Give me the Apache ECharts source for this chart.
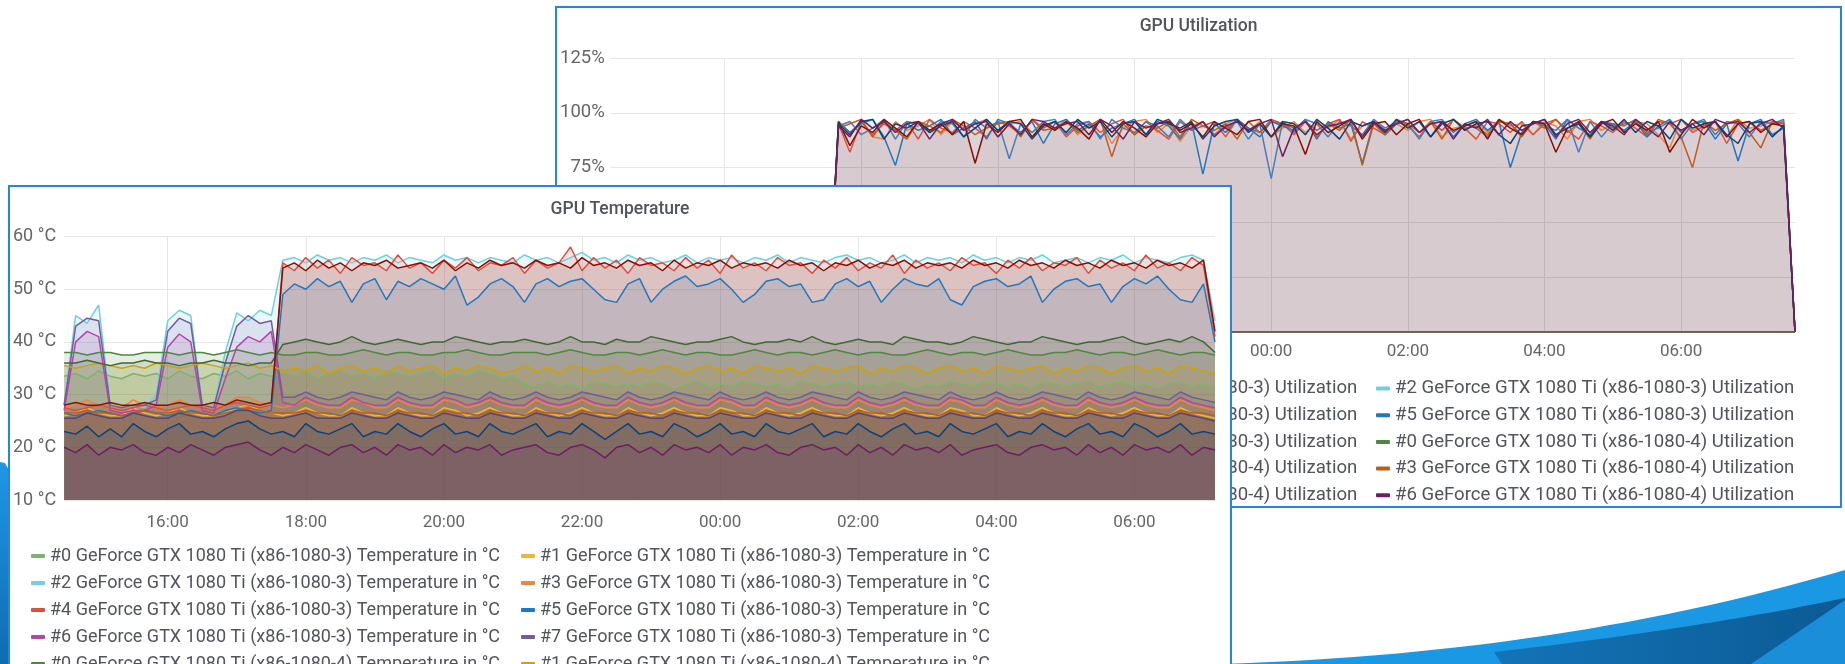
<!DOCTYPE html>
<html>
<head>
<meta charset="utf-8">
<title>GPU Temperature / Utilization</title>
<script src="https://cdn.jsdelivr.net/npm/echarts/dist/echarts.min.js"></script>
<style>
  html, body { margin: 0; padding: 0; background: #fff; width: 1845px; height: 664px; overflow: hidden; }
  #bg { position: absolute; left: 0; top: 0; width: 1845px; height: 664px; }
  .panel { position: absolute; background: #fff; border: 2px solid #2389d7; }
  #util { left: 555px; top: 6px; width: 1283px; height: 498px; z-index: 1; }
  #temp { left: 8px; top: 185px; width: 1220px; height: 520px; z-index: 2; }
</style>
</head>
<body>
<div id="bg"></div>
<div id="util" class="panel"></div>
<div id="temp" class="panel"></div>
<script>
// 10 minute slots
const timeSlots = (h, m, n) => {
  const out = []
  for (let i = 0; i < n; i++) {
    const t = (h * 60 + m + i * 10) % 1440
    out.push(String(Math.floor(t / 60)).padStart(2, '0') + ':' + String(t % 60).padStart(2, '0'))
  }
  return out
}
const tempTimes = timeSlots(14, 30, 101)   // 14:30 .. 07:10
const utilTimes = timeSlots(14, 20, 105)   // 14:20 .. 07:40

const gpuIds = ['#0', '#1', '#2', '#3', '#4', '#5', '#6', '#7']
const hosts = ['x86-1080-3', 'x86-1080-4']

const palette = ['#7EB26D', '#EAB839', '#6ED0E0', '#EF843C', '#E24D42', '#1F78C1', '#BA43A9', '#705DA0',
                 '#508642', '#CCA300', '#447EBC', '#C15C17', '#890F02', '#0A437C', '#6D1F62', '#584477']
const tempColors = ['#7EB26D', '#EAB839', '#6ED0E0', '#EF843C', '#E24D42', '#1F78C1', '#BA43A9', '#705DA0',
                    '#508642', '#CCA300', '#3F6833', '#C15C17', '#890F02', '#0A437C', '#6D1F62', '#584477']

const tempTicks = [10, 60, 10]   // min, max, step in °C
const utilTicks = [0, 125, 25]   // min, max, step in %

// ---- temperature, °C (x86-1080-3) ----
const tempA0 = [33.5,34,33,34.5,33.5,33,34,33.5,34,33, 34.5,33.5,33,34,33.5,34.5,33,34,33.5,34,
  33.5,34.5,33,34,34.5,33.5,34,33,34.5,34, 33.5,34,34.5,33,34,33.5,34.5,34,33,33.5,
  32,31.5,32.5,31.5,32,31,32.5,32,31.5,32, 31.5,32.5,32,31,32,32.5,31.5,32,31.5,32.5,
  32,31.5,32,31,32.5,32,31.5,32,32.5,31.5, 32,31.5,32.5,32,31,32,31.5,32.5,32,31.5,
  32.5,32,31.5,32,31,32.5,32,31.5,32,32.5, 31.5,32,32.5,31.5,32,31,32,32.5,31.5,32, 31]
const tempA1 = [26,26.5,27.5,26.5,26,26,27.5,26.5,26,26.5, 27.5,26.5,26,26,26.5,27.5,28,27,26.5,26,
  26.5,27.5,26.5,26,26,27.5,26.5,26,26,27.5, 26.5,26,26,27.5,27,26,26.5,27.5,26.5,26,
  26,27.5,26.5,26,26.5,27.5,26.5,26,26,27.5, 26.5,26,26.5,27.5,26.5,26,26,27.5,27,26,
  26,27.5,26.5,26,26.5,27.5,26.5,26,26,27.5, 26.5,26,26.5,27.5,26.5,26,26,27.5,27,26,
  26,27.5,26.5,26,26.5,27.5,26.5,26,26,27.5, 26.5,26,26.5,27.5,26.5,26,26,27.5,26.5,26, 25.5]
const tempA2 = [28,45,43.5,47,28,27.5,28,27.5,30,44, 46,45,28,27.5,38,45.5,44,46,45,55.5,
  56,55,56.5,55.5,56,55,56,55.5,56.5,55, 56,55.5,55,56.5,55.5,56,55,56,55.5,55,
  56.5,55.5,56,55,56,57,55.5,56,55,56.5, 55.5,56,55,55.5,56.5,55,56,55.5,56,55,
  56,55.5,56.5,55,56,55.5,55,56,56.5,55.5, 56,55,55.5,56.5,55,56,55.5,56,55,56.5,
  55.5,56,55,56,55.5,56.5,55,55.5,56,55, 56,55.5,56.5,55,56,55.5,55,56,56.5,55.5, 44]
const tempA3 = [27.5,28,29,28,27.5,27.5,29,28,27.5,28, 29,28,27.5,27.5,28,29.5,29.5,28.5,28,27.5,
  28,29,28,27.5,27.5,29,28.5,27.5,27.5,29, 28,27.5,27.5,29,28.5,27.5,28,29,28,27.5,
  27.5,29,28,27.5,28,29,28,27.5,27.5,29, 28,27.5,28,29,28,27.5,27.5,29,28.5,27.5,
  27.5,29,28,27.5,28,29,28,27.5,27.5,29, 28,27.5,28,29,28,27.5,27.5,29,28.5,27.5,
  27.5,29,28,27.5,28,29,28,27.5,27.5,29, 28,27.5,28,29,28,27.5,27.5,29,28,27.5, 27]
const tempA4 = [27.5,27,27.5,28,27.5,27,27.5,28,27.5,27, 27.5,28,27.5,27,28,28.5,28,27.5,28,55,
  53.5,56,54,55.5,53,56,54.5,55,53.5,56.5, 54,55,53,55.5,54,56,53.5,55,54.5,56,
  53,55.5,54,55,58,53.5,56,54,55.5,53, 56,54.5,55,53.5,56,54,55.5,53,56.5,54,
  55,53.5,56,54.5,55,53,55.5,54,56,53.5, 55,54,56.5,53,55.5,54,55,53.5,56,54.5,
  55,53,55.5,54,56,53.5,55,54.5,56,53, 55.5,54,55,53.5,56.5,54,55,53.5,56,54.5, 41]
const tempA5 = [26.5,26,26.5,27,26.5,26,26.5,27,26.5,26, 26.5,27,26.5,26,27,27.5,27,26.5,27,49,
  51,50,52,50.5,51.5,47.5,51,52,48,51.5, 50.5,52,51,50,52.5,47,48.5,51,52,50.5,
  47.5,51,52,50.5,51.5,52,50,48,47.5,51, 52,47.5,50,51.5,52.5,50.5,51,52,50,47.5,
  49,51.5,52,50.5,51,47.5,48,51,52,50.5, 51.5,47.5,50,52,51,50.5,52,48,47,50.5,
  51.5,52,50.5,51,52.5,47.5,50,51.5,52,50.5, 51,47.5,50.5,52,51,52.5,50,48,47.5,51, 40]
const tempA6 = [27,40,42,41,27,26.5,27,27,28,39, 41.5,40,27,26.5,33,39,41,40,42,28.5,
  28,29.5,28.5,28,28,29.5,28.5,28,28,29.5, 28.5,28,28,29.5,29,28,28.5,29.5,28.5,28,
  28,29.5,28.5,28,28.5,29.5,28.5,28,28,29.5, 28.5,28,28.5,29.5,28.5,28,28,29.5,29,28,
  28,29.5,28.5,28,28.5,29.5,28.5,28,28,29.5, 28.5,28,28.5,29.5,28.5,28,28,29.5,29,28,
  28,29.5,28.5,28,28.5,29.5,28.5,28,28,29.5, 28.5,28,28.5,29.5,28.5,28,28,29.5,28.5,28, 27.5]
const tempA7 = [28,43,44.5,44,28,27.5,28,28,29,42, 44.5,43.5,28,27.5,36,43,45,43.5,44,29.5,
  29.5,30.5,29.5,29,29.5,30.5,30,29.5,29,30.5, 29.5,29,29.5,30.5,30,29.5,29,30.5,29.5,29,
  29.5,30.5,29.5,29,29.5,30.5,30,29.5,29,30.5, 29.5,29,29.5,30.5,30,29.5,29,30.5,29.5,29,
  29.5,30.5,29.5,29,29.5,30.5,30,29.5,29,30.5, 29.5,29,29.5,30.5,30,29.5,29,30.5,29.5,29,
  29.5,30.5,29.5,29,29.5,30.5,30,29.5,29,30.5, 29.5,29,29.5,30.5,30,29.5,29,30.5,29.5,29, 28.5]

// ---- temperature, °C (x86-1080-4) ----
const tempB0 = [38,38,37.5,38,38,37.5,37.5,38,38,38, 37.5,38,38,37.5,38,38.5,38,37.5,38,37.5,
  37.5,38,38,37.5,37.5,38,38.5,38,37.5,38, 38,37.5,37.5,38,38,38.5,38,37.5,37.5,38,
  38,38,37.5,38,38.5,38,37.5,37.5,38,38, 37.5,38,38.5,38,37.5,38,38,37.5,37.5,38,
  38.5,38,37.5,38,38,37.5,38,38.5,38,37.5, 38,38,37.5,37.5,38,38.5,38,37.5,38,38,
  37.5,38,38.5,38,37.5,37.5,38,38,38.5,38, 37.5,38,38,37.5,38,38.5,38,37.5,38,38, 37.5]
const tempB1 = [35.5,35,35.5,36,35.5,35,35.5,35,36,35.5, 35,35.5,36,35.5,35,35.5,36,35,35.5,34.5,
  35,34.5,35.5,34,35,35.5,34.5,35,34,35.5, 34.5,35,35.5,34,35,34.5,35.5,35,34,34.5,
  35.5,34.5,35,34,35.5,35,34.5,35,35.5,34, 35,34.5,35.5,35,34,35,35.5,34.5,35,34,
  35.5,35,34.5,35,34,35.5,35,34.5,35,35.5, 34,35,34.5,35.5,35,34,35,35.5,34.5,35,
  34,35.5,35,34.5,35,35.5,34,35,34.5,35.5, 35,34,35,35.5,34.5,35,34,35.5,35,34.5, 34]
const tempB2 = [36,36,36.5,36,35.5,36,36,36.5,36,36, 35.5,36,36,36.5,36,36,35.5,36,36,39.5,
  40,40.5,40,39.5,40,41,40,39.5,40,40.5, 40,39.5,40,40,41,40.5,40,39.5,40,40,
  40.5,40,39.5,40,41,40,40,39.5,40.5,40, 40,41,40.5,40,39.5,40,40,40.5,41,40,
  39.5,40,40,40.5,40,41,40,39.5,40,40.5, 40,40,39.5,41,40.5,40,40,39.5,40,41,
  40.5,40,39.5,40,40,41,40.5,40,39.5,40, 40,40.5,41,40,39.5,40,40.5,40,41,40, 38]
const tempB3 = [26.5,26.5,27,26.5,26.5,26,26.5,27,26.5,26.5, 27,26.5,26.5,26,26.5,27,27.5,27,26.5,26.5,
  26.5,27,26.5,26.5,26,27,26.5,26.5,26,27, 26.5,26.5,26,27,26.5,26.5,26,27,26.5,26.5,
  26,27,26.5,26.5,26,27,26.5,26.5,26,27, 26.5,26.5,26,27,26.5,26.5,26,27,26.5,26.5,
  26,27,26.5,26.5,26,27,26.5,26.5,26,27, 26.5,26.5,26,27,26.5,26.5,26,27,26.5,26.5,
  26,27,26.5,26.5,26,27,26.5,26.5,26,27, 26.5,26.5,26,27,26.5,26.5,26,27,26.5,26.5, 26]
const tempB4 = [28,28.5,28,28,28.5,28,28,28.5,28,28, 28.5,28,28,28.5,28,29,28.5,28,28.5,54,
  55,53.5,55.5,54,55,53.5,55,54.5,55.5,54, 54.5,55,54,55.5,53.5,55,54,55.5,54.5,55,
  54,55.5,54.5,55,54,56,54.5,55,54,55.5, 54.5,55,53.5,55.5,54,55,54.5,55.5,54,55,
  54.5,55,54,55.5,54.5,55,53.5,55,54.5,55.5, 54,55,54.5,55.5,54,55,54.5,55,54,55.5,
  54.5,55,54,55.5,54.5,55,54,55.5,54.5,55, 54,55.5,54.5,55,54,55.5,54.5,55,54,55.5, 42]
const tempB5 = [23,22.5,24,22,23.5,22,24.5,23,22,23.5, 24.5,22.5,23,22,23.5,24.5,25,23.5,22.5,23,
  22,24.5,23,22.5,23.5,24.5,22,23,22.5,24.5, 23,22,23.5,24.5,22.5,23,22,24.5,23,22.5,
  23.5,24.5,22,23,22.5,24.5,23,21.5,23,24.5, 22.5,23,22,24.5,23.5,22,23,24.5,22.5,23,
  22,24.5,23,22.5,23.5,24.5,22,23,22.5,24.5, 23,22,23.5,24.5,22.5,23,22,24.5,23,22.5,
  23.5,24.5,22,23,22.5,24.5,23,22,23.5,24.5, 22.5,23,22,24.5,23.5,22,23,24.5,22.5,23, 22.5]
const tempB6 = [20,19,20.5,18.5,20,19.5,20.5,19,18.5,20, 19,20.5,19.5,18.5,20,20.5,21,19.5,18.5,20,
  19,20.5,19.5,18.5,20,20.5,19,20,18.5,20.5, 19.5,20,18.5,20.5,19,20,19.5,20.5,18.5,19.5,
  20,20.5,19,18.5,20,20.5,19.5,18,20,20.5, 19,20,18.5,20.5,19.5,20,19,20.5,18.5,20,
  19.5,20.5,19,18.5,20,20.5,19.5,20,18.5,20.5, 19,20,18.5,20.5,19.5,20,19,20.5,18.5,19.5,
  20,20.5,19,18.5,20,20.5,19.5,20,18.5,20.5, 19,20,18.5,20.5,19.5,20,19,20.5,18.5,20, 19.5]
const tempB7 = [25.5,25.5,26.5,26,25.5,25.5,26.5,26,25.5,25.5, 26.5,26,25.5,25.5,26,27,27,26,25.5,25.5,
  26,26.5,25.5,25.5,25.5,26.5,26,25.5,25.5,26.5, 26,25.5,25.5,26.5,26,25.5,25.5,26.5,26,25.5,
  25.5,26.5,26,25.5,25.5,26.5,26,25.5,25.5,26.5, 26,25.5,25.5,26.5,26,25.5,25.5,26.5,26,25.5,
  25.5,26.5,26,25.5,25.5,26.5,26,25.5,25.5,26.5, 26,25.5,25.5,26.5,26,25.5,25.5,26.5,26,25.5,
  25.5,26.5,26,25.5,25.5,26.5,26,25.5,25.5,26.5, 26,25.5,25.5,26.5,26,25.5,25.5,26.5,26,25.5, 25]

// ---- utilization, % ----
// idle before the job starts (14:20 .. 17:30)
const utilBefore = [0,0,0,0,0,0,0,0,0,0, 0,0,0,0,0,0,0,0,0,0]
// GPUs that stay idle the whole time
const utilIdle = [0,0,0,0,0,0,0,0,0,0, 0,0,0,0,0,0,0,0,0,0, 0,0,0,0,0,0,0,0,0,0, 0,0,0,0,0,0,0,0,0,0,
  0,0,0,0,0,0,0,0,0,0, 0,0,0,0,0,0,0,0,0,0, 0,0,0,0,0,0,0,0,0,0, 0,0,0,0,0,0,0,0,0,0,
  0,0,0,0,0,0,0,0,0,0, 0,0,0,0,0,0,0,0,0,0, 0,0,0,0,0]
// loaded GPUs, 17:40 .. 07:40
const utilA3 = [95,91,96,89,88,96,92,94,97,90, 96,93,95,97,89,95,96,91,95,93, 97,90,94,96,86,93,96,97,91,95,
  87,94,96,90,95,97,92,96,89,93, 96,91,95,93,97,88,94,96,90,95, 92,96,97,89,93,94,96,91,97,94,
  95,90,96,94,88,96,97,92,95,91, 96,95,90,84,97,92,95,96,89,97, 93,94,96,95, 0]
const utilA4 = [95,82,96,90,95,92,96,88,97,93, 91,96,93,89,96,94,90,97,93,96, 89,94,96,91,95,97,90,96,92,88,
  96,92,94,96,89,97,93,91,96,95, 90,96,92,95,97,87,96,93,90,96, 94,89,96,92,97,93,88,96,95,91,
  96,90,95,97,92,88,96,94,91,96, 93,89,96,95,97,91,94,96,86,95, 96,92,95,96, 0]
const utilA5 = [96,91,95,97,89,76,95,92,94,97, 90,93,96,88,97,95,91,96,86,95, 97,92,95,89,93,95,97,90,96,94,
  88,96,72,95,91,97,93,89,96,94, 92,97,88,96,93,95,77,96,90,95, 97,91,95,96,89,95,97,92,96,75,
  91,96,95,88,97,93,90,96,95,92, 96,89,94,97,91,95,96,88,95,78, 95,97,90,93, 0]
const utilB2 = [94,96,90,93,97,88,96,95,91,96, 95,89,97,93,96,79,95,91,96,97, 90,95,96,88,97,93,91,96,94,89,
  97,92,96,90,93,96,88,95,70,96, 91,97,95,89,96,94,90,97,93,96, 95,88,96,97,91,95,93,89,96,95,
  90,96,94,92,97,82,96,89,95,94, 97,91,93,96,88,95,97,90,96,95, 89,96,95,97, 0]
const utilB3 = [93,95,97,89,96,92,88,96,94,91, 97,94,90,93,95,96,89,97,92,93, 96,91,94,97,80,95,90,94,93,96,
  89,97,94,92,95,88,96,91,97,95, 93,96,89,95,92,97,76,95,90,97, 95,91,96,88,97,93,94,90,96,95,
  89,96,93,97,91,95,88,96,93,95, 96,90,97,95,89,75,96,92,95,97, 91,84,96,95, 0]
const utilB4 = [96,85,94,91,97,93,89,96,92,95, 90,96,77,95,91,96,97,89,95,92, 96,93,88,97,91,96,93,89,95,96,
  92,95,89,96,93,90,96,97,89,95, 94,81,96,91,94,97,88,95,96,90, 95,97,89,96,92,94,96,88,97,93,
  90,96,95,82,93,96,89,95,97,91, 95,92,96,82,90,97,93,96,89,95, 96,91,95,94, 0]
const utilB5 = [95,90,96,97,88,95,93,96,91,94, 96,89,93,97,92,96,95,88,94,96, 91,97,93,96,89,95,96,90,97,95,
  93,96,88,94,96,97,91,95,89,96, 95,90,97,93,88,96,94,96,91,97, 93,96,89,95,97,92,95,96,90,86,
  94,95,97,90,93,95,89,96,92,97, 91,96,94,88,97,93,95,96,90,86, 95,96,89,94, 0]
const utilB6 = [94,89,97,93,96,91,95,96,88,95, 97,92,95,96,89,95,90,97,96,93, 95,96,90,97,94,88,96,93,95,97,
  91,93,96,89,94,96,92,95,97,80, 93,96,90,94,95,97,89,96,92,95, 97,91,95,96,88,95,93,97,90,96,
  92,95,97,89,95,97,91,96,94,90, 97,93,89,96,92,95,90,97,95,96, 91,95,97,93, 0]

const tempValues = [tempA0, tempA1, tempA2, tempA3, tempA4, tempA5, tempA6, tempA7,
                    tempB0, tempB1, tempB2, tempB3, tempB4, tempB5, tempB6, tempB7]
const utilValues = [utilIdle, utilIdle, utilIdle, utilBefore.concat(utilA3), utilBefore.concat(utilA4),
                    utilBefore.concat(utilA5), utilIdle, utilIdle,
                    utilIdle, utilIdle, utilBefore.concat(utilB2), utilBefore.concat(utilB3),
                    utilBefore.concat(utilB4), utilBefore.concat(utilB5), utilBefore.concat(utilB6), utilIdle]

const seriesNames = suffix => {
  const out = []
  hosts.forEach(h => gpuIds.forEach(g => out.push(`${g} GeForce GTX 1080 Ti (${h}) ${suffix}`)))
  return out
}
const tempNames = seriesNames('Temperature in °C')
const utilNames = seriesNames('Utilization')

const FONT = 'Roboto, "Open Sans", sans-serif'
const evenHour = (i, v) => v.endsWith(':00') && parseInt(v, 10) % 2 === 0

const panelOption = ({ title, names, values, colors, times, ticks, unit, fill, grid, legend }) => ({
  animation: false,
  title: {
    text: title, left: 'center', top: grid.titleTop,
    textStyle: { fontFamily: FONT, fontSize: 17.5, fontWeight: 500, color: '#52545c' }
  },
  grid: { left: grid.left, top: grid.top, width: grid.width, height: grid.height },
  legend: Object.assign({
    icon: 'roundRect', itemWidth: 14, itemHeight: 4, selectedMode: false,
    data: names
  }, legend),
  xAxis: {
    type: 'category', boundaryGap: false, data: times,
    axisLine: { show: false }, axisTick: { show: false },
    axisLabel: { interval: evenHour, margin: grid.xMargin, fontFamily: FONT, fontSize: 17, color: '#666' },
    splitLine: { show: true, interval: evenHour, lineStyle: { color: '#e6e6e6' } }
  },
  yAxis: {
    type: 'value', min: ticks[0], max: ticks[1], interval: ticks[2],
    axisLine: { show: false }, axisTick: { show: false },
    axisLabel: { formatter: unit, margin: grid.labelMargin, fontFamily: FONT, fontSize: grid.yFont, color: '#666' },
    splitLine: { lineStyle: { color: '#e6e6e6' } }
  },
  series: names.map((n, i) => ({
    name: n, type: 'line', data: values[i], symbol: 'none', silent: true,
    itemStyle: { color: colors[i] },
    lineStyle: { width: 1.5, color: colors[i] },
    areaStyle: { opacity: fill, origin: 'start' }
  }))
})

const util = echarts.init(document.getElementById('util'))
util.setOption(panelOption({
  title: 'GPU Utilization', names: utilNames, values: utilValues, colors: palette,
  times: utilTimes, ticks: utilTicks, unit: '{value}%', fill: 0.045,
  grid: { left: 51, top: 50, width: 1187, height: 274, titleTop: 5, labelMargin: 6, xMargin: 11, yFont: 18.5 },
  // first column sits under the temperature panel
  legend: {
    left: -60, top: 366, width: 1320, itemGap: 7.7,
    textStyle: { fontFamily: FONT, fontSize: 18.6, color: '#52545c', width: 410.3, lineHeight: 16.5 }
  }
}))

const temp = echarts.init(document.getElementById('temp'))
temp.setOption(panelOption({
  title: 'GPU Temperature', names: tempNames, values: tempValues, colors: tempColors,
  times: tempTimes, ticks: tempTicks, unit: '{value} °C', fill: 0.14,
  grid: { left: 51, top: 49.5, width: 1154, height: 263.5, titleTop: 9, labelMargin: 8, xMargin: 14, yFont: 18 },
  legend: {
    left: 16, top: 355, width: 1000, itemGap: 9,
    textStyle: { fontFamily: FONT, fontSize: 18, color: '#52545c', width: 462, lineHeight: 15 }
  }
}))

// slide decoration behind the panels
const quad = (p0, c, p1, n) => {
  const pts = []
  for (let k = 0; k <= n; k++) {
    const t = k / n, u = 1 - t
    pts.push([u * u * p0[0] + 2 * u * t * c[0] + t * t * p1[0], u * u * p0[1] + 2 * u * t * c[1] + t * t * p1[1]])
  }
  return pts
}
const bg = echarts.init(document.getElementById('bg'))
bg.setOption({
  animation: false,
  graphic: [
    { type: 'polygon', shape: { points: quad([1220, 664], [1560, 654], [1845, 570], 30).concat([[1845, 664]]) },
      style: { fill: '#1a98e4' } },
    { type: 'polygon', shape: { points: quad([1494, 652], [1690, 630], [1845, 598], 30).concat([[1845, 664], [1502, 664]]) },
      style: { fill: new echarts.graphic.LinearGradient(0, 0, 1, 0, [
        { offset: 0, color: '#1474b8' }, { offset: 1, color: '#0b5a94' }]) } },
    { type: 'polygon', shape: { points: [[1751, 664], [1845, 600], [1845, 664]] }, style: { fill: '#1a8ed8' } },
    { type: 'polygon', shape: { points: [[0, 462], [5, 463], [9, 470], [9, 664], [0, 664]] },
      style: { fill: new echarts.graphic.LinearGradient(0, 0, 0, 1, [
        { offset: 0, color: '#2196e6' }, { offset: 1, color: '#0f6cb0' }]) } }
  ]
})
</script>
</body>
</html>
